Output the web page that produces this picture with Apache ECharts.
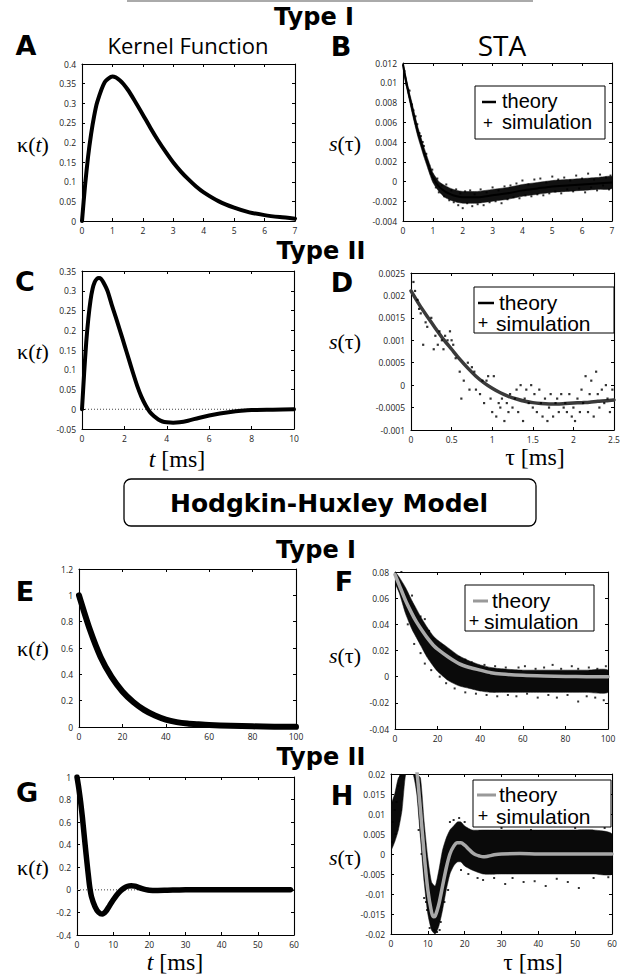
<!DOCTYPE html>
<html><head><meta charset="utf-8">
<script src="https://cdn.jsdelivr.net/npm/echarts@6/dist/echarts.min.js"></script>
<style>html,body{margin:0;padding:0;background:#fff}#c{width:629px;height:978px}</style>
</head><body><div id="c"></div>
<script>
// ---------- Tick labels ----------
const aXTicks=[0,1,2,3,4,5,6,7], aYTicks=[0,0.05,0.1,0.15,0.2,0.25,0.3,0.35,0.4];
const bXTicks=[0,1,2,3,4,5,6,7], bYTicks=[-0.004,-0.002,0,0.002,0.004,0.006,0.008,0.01,0.012];
const cXTicks=[0,2,4,6,8,10], cYTicks=[-0.05,0,0.05,0.1,0.15,0.2,0.25,0.3,0.35];
const dXTicks=[0,0.5,1,1.5,2,2.5], dYTicks=[-0.001,-0.0005,0,0.0005,0.001,0.0015,0.002,0.0025];
const eXTicks=[0,20,40,60,80,100], eYTicks=[0,0.2,0.4,0.6,0.8,1,1.2];
const fXTicks=[0,20,40,60,80,100], fYTicks=[-0.04,-0.02,0,0.02,0.04,0.06,0.08];
const gXTicks=[0,10,20,30,40,50,60], gYTicks=[-0.4,-0.2,0,0.2,0.4,0.6,0.8,1];
const hXTicks=[0,10,20,30,40,50,60], hYTicks=[-0.02,-0.015,-0.01,-0.005,0,0.005,0.01,0.015,0.02];

// ---------- A: kernel, type I ----------
const aT=[0,0.1,0.2,0.3,0.4,0.5,0.75,1,1.25,1.5,1.75,2,2.25,2.5,2.75,3,3.25,3.5,3.75,4,4.5,5,5.5,6,6.5,7];
const aK=[0,0.09,0.164,0.222,0.268,0.303,0.354,0.368,0.358,0.335,0.304,0.271,0.237,0.205,0.176,0.149,0.126,0.106,0.088,0.073,0.05,0.034,0.022,0.015,0.01,0.006];

// ---------- B: STA, type I ----------
const bT=[0,0.1,0.2,0.3,0.4,0.5,0.6,0.7,0.8,0.9,1.0,1.2,1.4,1.6,1.8,2.0,2.5,3.0,3.5,4.0,4.5,5.0,5.5,6.0,6.5,7.0];
const bS=[0.0118,0.0102,0.0088,0.0075,0.0062,0.0050,0.0040,0.0030,0.0021,0.0012,0.0004,-0.0005,-0.0010,-0.0013,-0.0015,-0.0016,-0.0016,-0.0014,-0.0012,-0.0009,-0.0007,-0.0005,-0.0004,-0.0003,-0.0002,-0.0001];
const bUp=[0.0121,0.0106,0.0092,0.0080,0.0067,0.0055,0.0045,0.0035,0.0026,0.0017,0.0009,0.0000,-0.0004,-0.0007,-0.0009,-0.0010,-0.0010,-0.0008,-0.0006,-0.0003,-0.0001,0.0001,0.0002,0.0003,0.0004,0.0005];
const bLo=[0.0115,0.0098,0.0084,0.0070,0.0057,0.0045,0.0035,0.0025,0.0016,0.0007,-0.0001,-0.0010,-0.0016,-0.0019,-0.0021,-0.0022,-0.0022,-0.0020,-0.0018,-0.0015,-0.0013,-0.0011,-0.0010,-0.0009,-0.0008,-0.0007];
const bSim=[[0.05,0.0112],[0.12,0.0098],[0.18,0.0093],[0.22,0.0092],[0.3,0.0078],[0.35,0.0072],[0.42,0.0066],[0.48,0.0058],[0.55,0.0049],[0.6,0.0046],[0.66,0.004],[0.7,0.0036],[0.78,0.0028],[0.82,0.002],[0.88,0.0016],[0.93,0.0008],[0.98,0.0012],[1.05,0.0002],[1.1,-0.0006],[1.15,0.0003],[1.2,-0.0011],[1.3,-0.0004],[1.38,-0.0015],[1.45,-0.0003],[1.55,-0.0019],[1.62,-0.0009],[1.7,-0.0021],[1.78,-0.0008],[1.85,-0.0024],[1.92,-0.0012],[2.0,-0.0027],[2.08,-0.001],[2.15,-0.0022],[2.25,-0.0009],[2.32,-0.0025],[2.4,-0.0013],[2.5,-0.0023],[2.6,-0.0008],[2.7,-0.0024],[2.8,-0.0011],[2.9,-0.0021],[3.0,-0.0006],[3.1,-0.002],[3.2,-0.0009],[3.3,-0.0022],[3.4,-0.0005],[3.5,-0.0018],[3.6,-0.0004],[3.7,-0.0016],[3.8,-0.0002],[3.9,-0.0017],[4.0,0.0001],[4.1,-0.0014],[4.2,-0.0003],[4.3,-0.0015],[4.4,0.0002],[4.5,-0.0013],[4.6,0.0003],[4.7,-0.0014],[4.8,-0.0001],[4.9,-0.0012],[5.0,0.0005],[5.1,-0.001],[5.2,0.0002],[5.3,-0.0012],[5.4,0.0004],[5.5,-0.0008],[5.6,0.0001],[5.7,-0.001],[5.8,0.0006],[5.9,-0.0007],[6.0,0.0003],[6.1,-0.0011],[6.2,0.0008],[6.3,-0.0006],[6.4,0.0002],[6.5,-0.0009],[6.6,0.0007],[6.7,-0.0004],[6.8,0.0004],[6.9,-0.0008],[6.95,0.0006]];

// ---------- C: kernel, type II ----------
const cT=[0,0.1,0.2,0.3,0.4,0.5,0.6,0.7,0.8,0.9,1.0,1.2,1.4,1.6,1.8,2.0,2.2,2.4,2.6,2.8,3.0,3.2,3.4,3.6,3.8,4.0,4.3,4.6,5.0,5.5,6.0,6.5,7.0,7.5,8.0,9.0,10.0];
const cK=[0,0.09,0.17,0.23,0.275,0.305,0.322,0.33,0.332,0.33,0.322,0.3,0.265,0.232,0.198,0.163,0.128,0.093,0.06,0.032,0.01,-0.007,-0.018,-0.026,-0.031,-0.033,-0.034,-0.033,-0.029,-0.022,-0.016,-0.011,-0.007,-0.004,-0.002,-0.001,0];
const cZeroX=[0,10], cZeroY=[0,0];

// ---------- D: STA, type II ----------
const dT=[0,0.1,0.2,0.3,0.4,0.5,0.6,0.7,0.8,0.9,1.0,1.1,1.2,1.3,1.4,1.5,1.6,1.7,1.8,1.9,2.0,2.1,2.2,2.3,2.4,2.5];
const dS=[0.0021,0.0018,0.00153,0.00127,0.00102,0.0008,0.00058,0.00038,0.0002,0.00005,-0.00007,-0.00017,-0.00025,-0.00031,-0.00036,-0.00039,-0.00041,-0.00042,-0.00042,-0.00041,-0.0004,-0.00039,-0.00038,-0.00036,-0.00035,-0.00033];
const dSim=[[0.03,0.0023],[0.05,0.0021],[0.08,0.0019],[0.1,0.0017],[0.12,0.0016],[0.15,0.0009],[0.18,0.0014],[0.2,0.0013],[0.25,0.0015],[0.28,0.0008],[0.3,0.0011],[0.33,0.0009],[0.35,0.0012],[0.38,0.001],[0.4,0.0008],[0.42,0.0011],[0.45,0.001],[0.48,0.0012],[0.5,0.001],[0.52,0.0009],[0.55,0.0006],[0.6,0.0003],[0.62,-0.0003],[0.65,0.0001],[0.7,0.0005],[0.72,-0.0001],[0.75,0.0004],[0.78,0.0003],[0.8,-0.0001],[0.85,-0.0002],[0.88,0.0001],[0.9,-0.0004],[0.93,0.0001],[0.95,0.0002],[0.98,-0.0003],[1.0,-0.0006],[1.02,0.0002],[1.05,-0.0007],[1.08,-0.0004],[1.1,-0.0005],[1.12,-0.0003],[1.15,-0.0008],[1.18,-0.0004],[1.2,-0.0006],[1.22,-0.0002],[1.25,-0.0005],[1.28,-0.0003],[1.3,-0.0001],[1.32,-0.0006],[1.35,0.0],[1.38,-0.0008],[1.4,-0.0003],[1.42,-0.0001],[1.45,-0.0004],[1.48,0.0],[1.5,-0.0005],[1.52,-0.0002],[1.55,-0.0006],[1.58,-0.0001],[1.6,-0.0004],[1.62,-0.0007],[1.65,-0.0003],[1.68,-0.0008],[1.7,-0.0005],[1.72,-0.0002],[1.75,-0.0007],[1.78,-0.0004],[1.8,-0.0003],[1.82,-0.0006],[1.85,-0.0002],[1.88,-0.0005],[1.9,-0.0004],[1.92,-0.0006],[1.95,-0.0002],[1.98,-0.0007],[2.0,-0.0005],[2.02,-0.0008],[2.05,-0.0003],[2.08,-0.0006],[2.1,-0.0001],[2.12,-0.0004],[2.15,0.0002],[2.18,-0.0006],[2.2,-0.0002],[2.22,0.0001],[2.25,-0.0007],[2.28,0.0003],[2.3,-0.0002],[2.32,-0.0005],[2.35,-0.0001],[2.38,-0.0004],[2.4,0.0],[2.42,-0.0003],[2.45,-0.0006],[2.48,-0.0001]];

// ---------- E: HH kernel, type I ----------
const eT=[0,5,10,15,20,25,30,35,40,45,50,55,60,70,80,90,100];
const eK=[1,0.74,0.53,0.38,0.27,0.19,0.13,0.087,0.056,0.037,0.026,0.02,0.015,0.009,0.005,0.002,0.001];

// ---------- F: HH STA, type I ----------
const fT=[0,2,5,8,10,12,15,18,20,25,30,35,40,45,50,60,70,80,90,100];
const fS=[0.078,0.07,0.058,0.048,0.042,0.037,0.03,0.024,0.021,0.015,0.01,0.007,0.005,0.003,0.002,0.001,0.0005,0.0002,0,0];
const fUp=[0.08,0.076,0.068,0.058,0.052,0.046,0.038,0.031,0.028,0.022,0.016,0.012,0.009,0.007,0.006,0.005,0.005,0.005,0.005,0.005];
const fLo=[0.072,0.064,0.048,0.036,0.03,0.024,0.015,0.008,0.004,-0.003,-0.007,-0.009,-0.011,-0.012,-0.012,-0.012,-0.012,-0.012,-0.012,-0.012];
const fSim=[[3,0.08],[8,0.062],[12,0.046],[14,0.044],[16,0.035],[18,0.029],[22,0.024],[24,0.021],[27,0.017],[30,0.015],[33,0.013],[36,0.011],[42,0.009],[47,0.008],[52,0.007],[58,0.007],[61,0.008],[66,0.006],[70,0.007],[74,0.009],[78,0.006],[83,0.008],[86,0.006],[91,0.007],[95,0.006],[99,0.008],[6,0.04],[9,0.025],[12,0.018],[14,0.01],[17,0.005],[21,0.0],[24,-0.005],[28,-0.009],[33,-0.012],[38,-0.013],[43,-0.014],[48,-0.015],[53,-0.014],[57,-0.015],[62,-0.013],[67,-0.016],[72,-0.014],[76,-0.016],[81,-0.014],[86,-0.019],[90,-0.015],[94,-0.016],[98,-0.018]];

// ---------- G: HH kernel, type II ----------
const gT=[0,0.5,1,1.5,2,2.5,3,3.5,4,5,6,7,8,9,10,11,12,13,14,15,16,17,18,19,20,22,25,28,30,40,50,59];
const gK=[1,0.9,0.78,0.64,0.48,0.32,0.17,0.03,-0.06,-0.15,-0.2,-0.215,-0.19,-0.14,-0.09,-0.045,-0.01,0.015,0.032,0.037,0.033,0.022,0.01,0.002,-0.003,-0.005,-0.003,-0.001,0,0,0,0];
const gZeroX=[0,60], gZeroY=[0,0];

// ---------- H: HH STA, type II ----------
const hT=[4,5,6,7,8,9,10,11,11.5,12,13,14,15,16,17,18,19,20,21,22,23,24,25,26,27,28,30,35,40,50,60];
const hS=[0.024,0.028,0.027,0.021,0.011,0.0,-0.009,-0.0145,-0.0157,-0.0155,-0.0125,-0.008,-0.0035,0.0,0.0019,0.0028,0.0028,0.0022,0.0013,0.0004,-0.0002,-0.0005,-0.0007,-0.0006,-0.0004,-0.0002,0.0,0.0001,0.0,0.0,0.0];
const hBX=[0,1,2,3,4,5,6,7,8,9,10,11,12,13,14,15,16,17,18,19,20,22,25,30,35,40,45,50,55,60];
const hUp=[0.012,0.015,0.019,0.02,0.02,0.02,0.02,0.02,0.019,0.008,-0.001,-0.007,-0.008,-0.004,0.001,0.004,0.006,0.007,0.008,0.008,0.007,0.006,0.006,0.006,0.006,0.006,0.006,0.006,0.006,0.005];
const hLo=[0.001,0.003,0.006,0.011,0.02,0.02,0.02,0.015,0.004,-0.007,-0.015,-0.019,-0.02,-0.018,-0.014,-0.009,-0.005,-0.003,-0.002,-0.002,-0.003,-0.004,-0.005,-0.005,-0.005,-0.005,-0.005,-0.005,-0.005,-0.005];
const hSim=[[0.3,0.003],[0.5,0.008],[1,0.011],[1.2,0.005],[1.5,0.013],[2,0.017],[2.5,0.0195],[7.5,0.006],[7.8,0.012],[8.3,0.0],[9,-0.011],[9.5,-0.012],[9.8,-0.014],[10.5,-0.0185],[11.8,-0.019],[12.5,-0.0195],[13.2,-0.019],[13.5,-0.017],[14.5,-0.012],[15.5,-0.009],[16,0.008],[17,0.0085],[18.5,0.009],[20,0.008],[23,0.0075],[26,0.008],[30,0.0065],[34,0.007],[38,0.006],[42,0.0075],[46,0.007],[50,0.0065],[54,0.007],[58,0.0065],[19,-0.004],[21,-0.005],[23.5,-0.006],[25,-0.0065],[28,-0.006],[31,-0.0075],[33,-0.006],[36,-0.007],[39,-0.0068],[42,-0.008],[45,-0.0062],[48,-0.007],[51,-0.0085],[55,-0.006],[59,-0.0058]];

// ---------- layout ----------
const grids=[
 {left:82,top:64,width:213,height:157},
 {left:403,top:63,width:209,height:158},
 {left:82,top:271,width:212,height:158},
 {left:411,top:273,width:203,height:157},
 {left:79,top:569,width:217,height:158},
 {left:395,top:572,width:213,height:157},
 {left:77,top:777,width:217,height:158},
 {left:391,top:774,width:221,height:160}
];
const ticks=[[aXTicks,aYTicks],[bXTicks,bYTicks],[cXTicks,cYTicks],[dXTicks,dYTicks],[eXTicks,eYTicks],[fXTicks,fYTicks],[gXTicks,gYTicks],[hXTicks,hYTicks]];
const TICKFONT='Open Sans, sans-serif';
const fmt=v=>String(parseFloat(Number(v).toFixed(6)));

const xAxis=[], yAxis=[];
ticks.forEach((t,i)=>{
  const xt=t[0], yt=t[1];
  const base=(arr,pos,showLabel,isX)=>({
    gridIndex:i,type:'value',position:pos,
    min:arr[0],max:arr[arr.length-1],interval:arr[1]-arr[0],
    axisLine:{show:true,onZero:false,lineStyle:{color:'#000',width:1.1}},
    axisTick:{show:true,inside:true,length:3,lineStyle:{color:'#000',width:1}},
    axisLabel:{show:showLabel,fontSize:8.5,color:'#222',fontFamily:TICKFONT,margin:isX?5:6,formatter:fmt,showMinLabel:true,showMaxLabel:true,hideOverlap:false},
    splitLine:{show:false}
  });
  xAxis.push(base(xt,'bottom',true,true));
  xAxis.push(base(xt,'top',false,true));
  yAxis.push(base(yt,'left',true,false));
  yAxis.push(base(yt,'right',false,false));
});

const zip=(xs,ys)=>xs.map((x,i)=>[x,ys[i]]);
const line=(gi,xs,ys,color,width,extra)=>Object.assign({
  type:'line',xAxisIndex:2*gi,yAxisIndex:2*gi,data:zip(xs,ys),symbol:'none',
  smooth:0.25,clip:true,silent:true,z:3,
  lineStyle:{color:color,width:width,cap:'round',join:'round'}
},extra||{});
const dots=(gi,pts,size)=>({
  type:'scatter',xAxisIndex:2*gi,yAxisIndex:2*gi,data:pts,symbol:'rect',symbolSize:size||2,
  itemStyle:{color:'#000'},silent:true,clip:true,z:4
});
const band=(gi,xs,ups,los,color)=>({
  type:'custom',xAxisIndex:2*gi,yAxisIndex:2*gi,clip:true,silent:true,z:2,
  data:xs.map((x,i)=>[x,ups[i],los[i]]),encode:{x:0,y:[1,2]},
  renderItem:function(params,api){
    if(params.dataIndex!==0) return null;
    const pts=[];
    for(let i=0;i<xs.length;i++) pts.push(api.coord([xs[i],ups[i]]));
    for(let i=xs.length-1;i>=0;i--) pts.push(api.coord([xs[i],los[i]]));
    return {type:'polygon',shape:{points:pts,smooth:0.2},style:{fill:color,stroke:color,lineWidth:0.5}};
  }
});

const series=[
  line(0,aT,aK,'#000',4),
  band(1,bT,bUp,bLo,'#111'),
  line(1,bT,bS,'#000',2),
  dots(1,bSim,2),
  line(2,cZeroX,cZeroY,'#444',1,{smooth:false,z:1,lineStyle:{color:'#444',width:1,type:[1,2]}}),
  line(2,cT,cK,'#000',4),
  line(3,dT,dS,'#3a3a3a',3.5),
  dots(3,dSim,2.2),
  line(4,eT,eK,'#000',6),
  band(5,fT,fUp,fLo,'#0a0a0a'),
  line(5,fT,fS,'#aaaaaa',3.5,{z:5}),
  dots(5,fSim,2),
  line(6,gZeroX,gZeroY,'#444',1,{smooth:false,z:1,lineStyle:{color:'#444',width:1,type:[1,2]}}),
  line(6,gT,gK,'#000',5.5),
  band(7,hBX,hUp,hLo,'#0a0a0a'),
  line(7,hT,hS,'#a8a8a8',3.5,{z:5}),
  dots(7,hSim,2)
];

// ---------- text / decoration ----------
const HEAVY='DejaVu Sans, sans-serif';
const SERIF='Liberation Serif, DejaVu Serif, serif';
const HELV='Liberation Sans, Arial, sans-serif';
const T=(x,y,text,style)=>({type:'text',x:x,y:y,z:100,silent:true,
  style:Object.assign({text:text,fill:'#000',align:'center',verticalAlign:'middle'},style)});
const heavy=(x,y,s,size)=>T(x,y,s,{fontFamily:HEAVY,fontWeight:'bold',fontSize:size});
const mathRich={
  n:{fontFamily:SERIF,fontSize:22,fill:'#000'},
  i:{fontFamily:SERIF,fontSize:22,fontStyle:'italic',fill:'#000'}
};
const kappa=(x,y)=>T(x,y,'{n|κ(}{i|t}{n|)}',{rich:mathRich});
const sTau=(x,y)=>T(x,y,'{i|s}{n|(τ)}',{rich:mathRich});
const xRich={n:{fontFamily:SERIF,fontSize:24,fill:'#000'},i:{fontFamily:SERIF,fontSize:24,fontStyle:'italic',fill:'#000'}};
// legend: box, theory sample, texts
const legend=(bx,by,bw,bh,lineColor,tx,ty1,sx,ty2,dash,plusX,fs)=>[
  {type:'rect',z:90,silent:true,shape:{x:bx,y:by,width:bw,height:bh},style:{fill:'#fff',stroke:'#000',lineWidth:1}},
  {type:'line',z:100,silent:true,shape:{x1:dash[0],y1:ty1+1,x2:dash[1],y2:ty1+1},style:{stroke:lineColor,lineWidth:lineColor==='#000'?2.5:3}},
  T(tx,ty1,'theory',{align:'left',fontFamily:HELV,fontSize:fs}),
  T(plusX,ty2,'+',{fontFamily:HELV,fontSize:fs-3}),
  T(sx,ty2,'simulation',{align:'left',fontFamily:HELV,fontSize:fs})
];

const graphic=[
  {type:'line',silent:true,shape:{x1:127,y1:1,x2:533,y2:1},style:{stroke:'#aaa',lineWidth:2}},
  heavy(314,17,'Type I',24),
  heavy(321,251,'Type II',24),
  {type:'rect',silent:true,shape:{x:124,y:479,width:412,height:47,r:7},style:{fill:'#fff',stroke:'#000',lineWidth:1.3}},
  heavy(329,503,'Hodgkin-Huxley Model',25),
  heavy(316,550,'Type I',24),
  heavy(321,757,'Type II',24),
  heavy(26,45,'A',27), heavy(341,46,'B',27), heavy(25,281,'C',27), heavy(342,282,'D',27),
  heavy(25,591,'E',27), heavy(344,581,'F',27), heavy(27,792,'G',27), heavy(342,795,'H',27),
  T(188,45,'Kernel Function',{fontFamily:'Open Sans, sans-serif',fontSize:22}),
  T(502,45,'STA',{fontFamily:'Open Sans, sans-serif',fontSize:28}),
  kappa(33,144), sTau(345,143),
  kappa(33,351), sTau(345,341),
  kappa(33,648), sTau(345,655),
  kappa(33,867), sTau(345,857),
  T(177,459,'{i|t}{n| [ms]}',{rich:xRich}),
  T(535,457,'{n|τ [ms]}',{rich:xRich}),
  T(175,962,'{i|t}{n| [ms]}',{rich:xRich}),
  T(533,962,'{n|τ [ms]}',{rich:xRich})
].concat(
  legend(475,86,130,53,'#000',502,101,502,122,[482,496],488,20),
  legend(474,287,140,46,'#000',499,302,496,323,[478,494],483,21),
  legend(465,585,129,46,'#999',492,600,484,621,[473,488],474,21),
  legend(473,780,138,47,'#999',499,794,496,816,[477,496],483,21)
);

const chart=echarts.init(document.getElementById('c'),null,{renderer:'svg',width:629,height:978});
chart.setOption({
  animation:false,
  backgroundColor:'#fff',
  grid:grids.map(g=>Object.assign({containLabel:false,outerBoundsMode:'none'},g)),
  xAxis:xAxis,yAxis:yAxis,series:series,graphic:graphic
});
</script></body></html>
